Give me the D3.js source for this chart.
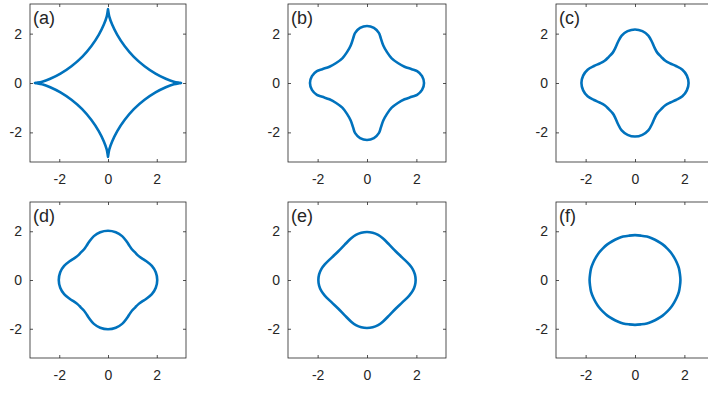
<!DOCTYPE html>
<html>
<head>
<meta charset="utf-8">
<script src="https://d3js.org/d3.v7.min.js"></script>
<style>
  body { margin: 0; background: #fff; }
  svg { display: block; }
  text { font-family: "Liberation Sans", Arial, Helvetica, sans-serif; fill: #262626; }
</style>
</head>
<body>
<svg id="fig" width="708" height="393"></svg>
<script>
// panel labels and ticks
var panelLabels = ["(a)", "(b)", "(c)", "(d)", "(e)", "(f)"];
var xTicks = [-2, 0, 2];
var yTicks = [-2, 0, 2];
var axisLim = [-3.2, 3.2];

// first-quadrant points of each curve (x, y), going from +x axis to +y axis
var curveA = [[3.00,0.00],[2.92,0.01],[2.70,0.05],[2.37,0.17],[1.95,0.38],[1.50,0.68],[1.06,1.06],
              [0.68,1.50],[0.38,1.95],[0.17,2.37],[0.05,2.70],[0.01,2.92],[0.00,3.00]];
var curveB = [[2.31,0.00],[2.23,0.28],[2.03,0.48],[1.81,0.56],[1.52,0.66],[1.25,0.81],[1.00,1.00],
              [0.81,1.25],[0.66,1.52],[0.56,1.81],[0.48,2.03],[0.28,2.23],[0.00,2.31]];
var curveC = [[2.17,0.00],[2.10,0.30],[1.92,0.54],[1.66,0.69],[1.43,0.79],[1.23,0.90],[1.06,1.06],
              [0.90,1.23],[0.79,1.43],[0.69,1.66],[0.54,1.92],[0.30,2.10],[0.00,2.17]];
var curveD = [[2.02,0.00],[1.96,0.32],[1.80,0.58],[1.56,0.78],[1.39,0.89],[1.25,0.99],[1.12,1.12],
              [0.99,1.25],[0.89,1.39],[0.78,1.56],[0.58,1.80],[0.32,1.96],[0.00,2.02]];
var curveE = [[1.97,0.00],[1.94,0.23],[1.85,0.45],[1.71,0.64],[1.44,0.91],[1.17,1.17],
              [0.91,1.44],[0.64,1.71],[0.45,1.85],[0.23,1.94],[0.00,1.97]];
var curveF = [[1.84,0.00],[1.82,0.24],[1.78,0.48],[1.70,0.70],[1.59,0.92],[1.46,1.12],[1.30,1.30],
              [1.12,1.46],[0.92,1.59],[0.70,1.70],[0.48,1.78],[0.24,1.82],[0.00,1.84]];
var curves = [curveA, curveB, curveC, curveD, curveE, curveF];

// axes boxes (left, top, right, bottom) in px
var boxes = [
  [30, 4, 186, 162], [288, 4, 446, 162], [556, 4, 714, 162],
  [30, 202, 186, 358], [288, 202, 446, 358], [556, 202, 714, 358]
];

var svg = d3.select("#fig");
var lineColor = "#0072BD";
var axisColor = "#262626";

// mirror the first quadrant into a full closed loop
function fullLoop(q) {
  var q2 = q.slice(0, -1).reverse().map(function(p) { return [-p[0], p[1]]; });
  var q3 = q.slice(1).map(function(p) { return [-p[0], -p[1]]; });
  var q4 = q.slice(1, -1).reverse().map(function(p) { return [p[0], -p[1]]; });
  return q.concat(q2).concat(q3).concat(q4);
}

boxes.forEach(function(b, i) {
  var x = d3.scaleLinear().domain(axisLim).range([b[0], b[2]]);
  var y = d3.scaleLinear().domain(axisLim).range([b[3], b[1]]);
  var g = svg.append("g");

  var line = d3.line()
    .x(function(d) { return x(d[0]); })
    .y(function(d) { return y(d[1]); })
    .curve(d3.curveCatmullRomClosed.alpha(0.5));

  g.append("path")
    .datum(fullLoop(curves[i]))
    .attr("d", line)
    .attr("fill", "none")
    .attr("stroke", lineColor)
    .attr("stroke-width", 2.6);

  var bottom = g.append("g").attr("transform", "translate(0," + b[3] + ")")
    .call(d3.axisBottom(x).tickValues(xTicks).tickSizeInner(-3).tickSizeOuter(0));
  var top = g.append("g").attr("transform", "translate(0," + b[1] + ")")
    .call(d3.axisTop(x).tickValues(xTicks).tickSizeInner(-3).tickSizeOuter(0).tickFormat(""));
  var left = g.append("g").attr("transform", "translate(" + b[0] + ",0)")
    .call(d3.axisLeft(y).tickValues(yTicks).tickSizeInner(-3).tickSizeOuter(0).tickPadding(8));
  var right = g.append("g").attr("transform", "translate(" + b[2] + ",0)")
    .call(d3.axisRight(y).tickValues(yTicks).tickSizeInner(-3).tickSizeOuter(0).tickFormat(""));

  [bottom, top, left, right].forEach(function(a) {
    a.select(".domain").remove();
    a.selectAll("line").attr("stroke", axisColor).attr("stroke-width", 0.8);
    a.selectAll("text").attr("fill", axisColor)
      .style("font-size", "14px")
      .style("font-family", '"Liberation Sans", Arial, sans-serif');
  });
  bottom.selectAll("text").attr("dy", "0.71em").attr("y", 12);
  left.selectAll("text").text(function(d) { return d < 0 ? "-" + Math.abs(d) : d; });
  bottom.selectAll("text").text(function(d) { return d < 0 ? "-" + Math.abs(d) : d; });

  g.append("rect")
    .attr("x", b[0]).attr("y", b[1])
    .attr("width", b[2] - b[0]).attr("height", b[3] - b[1])
    .attr("fill", "none").attr("stroke", axisColor).attr("stroke-width", 0.8);

  g.append("text")
    .attr("x", b[0] + 3).attr("y", b[1] + 19.5)
    .style("font-size", "18px")
    .text(panelLabels[i]);
});
</script>
</body>
</html>
